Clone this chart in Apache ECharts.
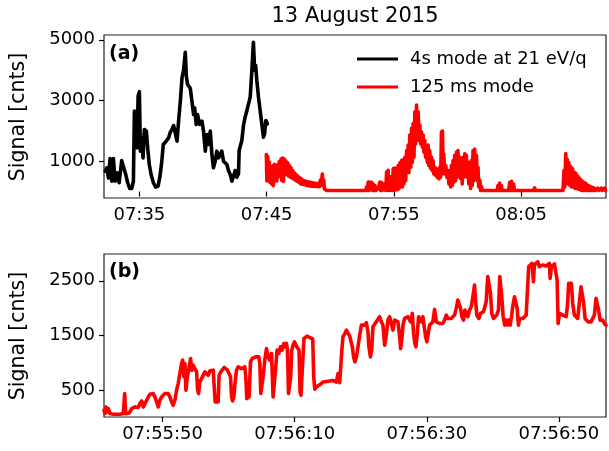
<!DOCTYPE html>
<html>
<head>
<meta charset="utf-8">
<script src="https://cdn.jsdelivr.net/npm/echarts@6.0.0/dist/echarts.min.js"></script>
<style>
html,body{margin:0;padding:0;background:#fff;}
#chart{width:609px;height:451px;}
</style>
</head>
<body>
<div id="chart"></div>
<script>
// ---- Data (time in minutes after 07:00 for panel a; seconds after 07:55:00 for panel b) ----
const blackTop = [
[32.31,670],[32.44,780],[32.57,450],[32.70,1090],[32.83,340],[32.96,1090],[33.09,340],[33.25,620],
[33.41,290],[33.61,1020],[33.77,780],[33.93,560],[34.08,290],[34.24,100],[34.40,100],[34.53,340],
[34.61,2650],[34.74,2540],[34.82,1440],[34.90,3140],[35.00,3290],[35.08,1330],[35.18,1770],[35.29,1110],
[35.39,2045],[35.55,1990],[35.65,1440],[35.78,890],[35.92,560],[36.10,290],[36.28,143],[36.47,177],
[36.62,506],[36.75,947],[36.88,1550],[37.04,1630],[37.30,1770],[37.43,1956],[37.56,2045],[37.69,2176],
[37.82,2210],[37.96,1660],[38.08,2318],[38.22,2977],[38.35,3748],[38.47,3990],[38.61,4590],[38.69,3800],
[38.79,3530],[39.00,3400],[39.13,2977],[39.26,2539],[39.34,2760],[39.47,2210],[39.57,2539],[39.73,2210],
[39.92,2320],[40.04,1990],[40.18,1330],[40.31,1880],[40.44,1550],[40.57,1990],[40.70,1220],[40.82,782],
[40.96,1000],[41.09,1330],[41.22,1110],[41.35,1220],[41.48,1330],[41.61,1000],[41.75,1023],[41.88,891],
[42.00,694],[42.14,562],[42.27,341],[42.40,330],[42.53,694],[42.66,470],[42.79,585],[42.84,1352],
[43.05,1682],[43.18,2176],[43.31,2450],[43.45,2670],[43.57,2700],[43.71,3110],[43.84,3990],[43.96,4921],
[44.06,4000],[44.14,4150],[44.23,3659],[44.36,3110],[44.49,2670],[44.62,2232],[44.75,1790],[44.84,1900],
[44.94,2341],[45.06,2232]
];
const redTop = [
[44.98,1220],[45.02,350],[45.09,1150],[45.15,465],[45.21,960],[45.27,300],[45.35,800],[45.41,240],
[45.47,840],[45.53,190],[45.60,900],[45.67,400],[45.73,700],[45.80,350],[45.86,880],[45.93,480],
[45.99,990],[46.06,530],[46.13,1070],[46.19,365],[46.25,1100],[46.32,330],[46.38,1080],[46.45,620],
[46.51,1010],[46.58,560],[46.65,950],[46.71,510],[46.77,870],[46.84,480],[46.91,790],[46.98,450],
[47.04,700],[47.10,420],[47.16,630],[47.24,380],[47.30,570],[47.37,350],[47.43,510],[47.49,320],
[47.56,470],[47.63,270],[47.70,430],[47.76,240],[47.85,380],[47.93,230],[48.02,345],[48.11,210],
[48.19,330],[48.28,190],[48.36,315],[48.45,180],[48.55,300],[48.63,170],[48.72,280],[48.80,170],
[48.89,270],[48.98,165],[49.06,270],[49.15,160],[49.22,380],[49.27,200],[49.38,575],[49.43,200],
[49.49,380],[49.54,90],[49.59,150],[49.65,35],[49.72,35],
[52.80,35],[52.86,150],[52.92,35],[52.98,310],[53.05,35],[53.12,310],[53.19,60],[53.27,300],
[53.33,35],[53.38,250],[53.44,35],[53.51,200],[53.57,35],[53.71,35],[53.77,100],[53.83,35],
[53.90,310],[53.97,35],[54.04,300],[54.10,35],[54.23,35],[54.29,250],[54.36,35],[54.43,650],
[54.49,35],[54.55,700],[54.62,35],[54.69,490],[54.76,35],[54.82,400],[54.88,35],[54.95,760],
[55.01,35],[55.08,770],[55.14,50],[55.21,640],[55.27,60],[55.34,860],[55.40,90],[55.47,950],
[55.54,150],[55.60,1020],[55.67,150],[55.73,1050],[55.79,250],[55.86,1130],[55.93,360],[56.00,1350],
[56.06,630],[56.12,1530],[56.18,630],[56.25,1860],[56.33,800],[56.39,2080],[56.45,960],[56.51,2240],
[56.58,1130],[56.65,2630],[56.71,1570],[56.78,2850],[56.84,1790],[56.91,2630],[56.97,1680],[57.04,2190],
[57.11,1570],[57.17,1970],[57.24,1460],[57.30,1860],[57.36,1300],[57.43,1680],[57.49,1130],[57.56,1460],
[57.63,960],[57.69,1530],[57.75,850],[57.82,1350],[57.89,750],[57.96,1130],[58.02,690],[58.08,1020],
[58.14,580],[58.22,800],[58.28,530],[58.35,750],[58.41,470],[58.47,690],[58.54,420],[58.61,800],
[58.68,470],[58.74,1970],[58.78,580],[58.82,1990],[58.87,700],[58.92,1240],[59.00,580],[59.08,860],
[59.17,470],[59.26,690],[59.32,250],[59.39,580],[59.46,150],[59.52,860],[59.59,200],[59.65,1020],
[59.71,310],[59.78,1190],[59.85,360],[59.92,1300],[59.98,470],[60.04,1350],[60.11,530],[60.18,1130],
[60.25,420],[60.31,970],[60.37,250],[60.44,1130],[60.50,470],[60.57,1240],[60.63,530],[60.70,1190],
[60.76,470],[60.83,970],[60.89,250],[60.96,800],[61.03,100],[61.09,1020],[61.16,200],[61.22,1350],
[61.28,360],[61.35,1400],[61.42,420],[61.49,1190],[61.55,360],[61.61,800],[61.67,150],[61.75,380],
[61.82,35],[61.88,170],[61.94,35],[62.00,35],
[63.11,35],[63.18,200],[63.24,35],[63.31,280],[63.38,35],[63.45,200],[63.51,35],
[64.02,35],[64.10,300],[64.17,35],[64.25,340],[64.33,35],[64.41,250],[64.47,35],
[65.98,35],[66.06,120],[66.14,35],
[68.29,35],[68.37,700],[68.43,150],[68.51,1250],[68.57,400],[68.63,1050],[68.69,250],[68.76,950],
[68.83,200],[68.90,820],[68.96,150],[69.03,760],[69.09,150],[69.16,650],[69.23,100],[69.30,600],
[69.36,100],[69.43,520],[69.49,80],[69.56,450],[69.63,60],[69.70,390],[69.76,35],[69.83,330],
[69.89,35],[69.96,300],[70.03,35],[70.10,260],[70.16,35],[70.23,210],[70.29,35],[70.36,180],
[70.43,35],[70.50,150],[70.56,35],[70.63,130],[70.69,35],[70.76,110],[70.83,35],[70.90,100],
[70.96,35],[71.03,110],[71.09,35],[71.16,100],[71.23,35],[71.30,110],[71.36,35],[71.43,100],
[71.49,35],[71.56,110],[71.63,35]
];
const redBottom = [
[41.13,135],[41.28,74],[41.43,196],[41.63,104],[41.78,166],[42.04,74],[42.29,104],[42.54,62],
[42.79,86],[43.05,62],[43.29,74],[43.55,62],[43.81,86],[44.05,74],[44.26,440],[44.41,74],
[44.65,104],[44.96,86],[45.32,166],[45.56,196],[45.82,196],[46.07,166],[46.31,184],[46.57,257],
[46.83,306],[47.07,196],[47.33,257],[47.59,318],[47.83,379],[48.09,428],[48.34,440],[48.58,440],
[48.84,379],[49.10,287],[49.34,196],[49.59,318],[49.85,379],[50.09,391],[50.35,440],[50.61,470],
[50.85,440],[51.11,379],[51.37,287],[51.61,226],[51.86,318],[52.12,501],[52.36,623],[52.62,653],
[52.88,989],[53.03,1050],[53.23,745],[53.38,989],[53.53,501],[53.72,714],[53.98,745],[54.24,1080],
[54.43,867],[54.63,958],[54.89,928],[55.15,836],[55.30,501],[55.45,440],[55.64,653],[55.90,714],
[56.14,745],[56.40,836],[56.66,867],[56.90,775],[57.16,855],[57.41,867],[57.66,867],[57.81,867],
[57.96,287],[58.17,287],[58.41,287],[58.56,775],[58.82,836],[59.08,867],[59.32,916],[59.58,928],
[59.83,867],[60.08,855],[60.29,745],[60.44,379],[60.59,306],[60.79,379],[60.98,653],[61.19,867],
[61.44,928],[61.69,928],[61.95,897],[62.19,916],[62.45,928],[62.60,745],[62.75,348],[62.90,318],
[63.10,379],[63.31,1019],[63.56,1080],[63.81,1080],[64.07,1111],[64.31,1080],[64.57,1111],[64.72,989],
[64.87,440],[65.02,409],[65.22,745],[65.47,1050],[65.73,1263],[65.97,1111],[66.23,1050],[66.49,1172],
[66.73,379],[66.88,379],[67.09,867],[67.33,1233],[67.59,1172],[67.85,1294],[68.09,1233],[68.35,1355],
[68.50,1294],[68.75,1355],[68.91,1233],[69.06,440],[69.21,409],[69.40,745],[69.55,1233],[69.75,1324],
[69.96,1385],[70.16,1355],[70.31,1294],[70.51,1294],[70.66,1233],[70.81,470],[70.96,409],[71.17,928],
[71.41,1446],[71.67,1477],[71.87,1489],[72.08,1464],[72.28,1464],[72.58,1500],[72.73,1440],[72.88,745],
[73.04,520],[73.29,560],[73.53,590],[73.79,600],[74.05,620],[74.29,650],[74.55,640],[74.81,660],
[75.05,650],[75.30,670],[75.56,660],[75.81,680],[76.06,660],[76.32,650],[76.56,806],[76.71,800],
[76.81,640],[76.97,660],[77.12,1200],[77.31,1477],[77.57,1530],[77.83,1599],[78.07,1570],[78.33,1490],
[78.58,1477],[78.73,1290],[78.93,1100],[79.13,1019],[79.34,1111],[79.58,1290],[79.84,1507],[80.10,1690],
[80.34,1720],[80.60,1690],[80.85,1733],[81.09,1570],[81.24,1290],[81.46,1111],[81.65,1230],[81.85,1660],
[82.11,1690],[82.36,1750],[82.61,1750],[82.86,1843],[83.12,1750],[83.36,1690],[83.62,1324],[83.87,1507],
[84.12,1782],[84.37,1843],[84.63,1843],[84.87,1600],[85.13,1782],[85.39,1812],[85.63,1750],[85.89,1477],
[86.04,1263],[86.23,1446],[86.39,1690],[86.64,1812],[86.90,1843],[87.14,1843],[87.40,1873],[87.55,1750],
[87.81,1904],[88.00,1538],[88.20,1355],[88.35,1294],[88.56,1538],[88.76,1843],[89.02,1873],[89.21,1750],
[89.41,1843],[89.62,1873],[89.82,1477],[90.01,1385],[90.22,1538],[90.42,1690],[90.68,1690],[90.92,1750],
[91.18,1977],[91.44,1750],[91.68,1782],[91.93,1720],[92.19,1690],[92.43,1720],[92.69,1782],[92.95,1873],
[93.19,1812],[93.45,1782],[93.70,1812],[93.95,1843],[94.20,1873],[94.46,1995],[94.70,2148],[94.96,2148],
[95.11,1995],[95.31,1843],[95.56,1782],[95.76,1965],[95.97,1934],[96.21,1843],[96.47,1965],[96.73,2025],
[96.97,2209],[97.23,2422],[97.38,2148],[97.57,1873],[97.88,1812],[98.13,1904],[98.39,1934],[98.58,1934],
[98.78,1965],[98.99,2117],[99.23,2575],[99.49,2575],[99.64,2270],[99.84,1904],[100.10,1812],[100.35,1843],
[100.59,1873],[100.85,1965],[101.05,2575],[101.20,2575],[101.35,2209],[101.56,1843],[101.80,1690],[102.01,1782],
[102.21,1690],[102.41,1782],[102.62,1690],[102.82,1843],[103.01,2025],[103.27,2209],[103.53,2239],[103.68,1995],
[103.87,1690],[104.07,1812],[104.28,1782],[104.53,1812],[104.78,1843],[105.04,1873],[105.28,1904],[105.43,2758],
[105.64,2788],[105.94,2819],[106.14,2483],[106.29,2788],[106.55,2819],[106.79,2849],[107.05,2758],[107.31,2788],
[107.55,2788],[107.81,2819],[108.06,2770],[108.31,2788],[108.56,2819],[108.67,2544],[108.87,2758],[109.06,2788],
[109.32,2807],[109.58,2819],[109.73,2514],[109.88,1721],[110.08,1904],[110.33,1873],[110.58,1873],[110.83,1904],
[111.09,1843],[111.28,2025],[111.48,2453],[111.69,2483],[111.89,2453],[112.09,2087],[112.34,1873],[112.60,1843],
[112.84,1812],[113.10,1782],[113.35,2392],[113.55,2362],[113.75,2087],[113.96,1812],[114.20,1782],[114.41,1750],
[114.61,1721],[114.87,1750],[115.11,1721],[115.37,1873],[115.62,2178],[115.86,2148],[116.01,1965],[116.23,1782],
[116.42,1750],[116.62,1782],[116.88,1721],[117.13,1690]
];
const topTicks = [35, 45, 55, 65];
const topTickLabels = ['07:35', '07:45', '07:55', '08:05'];
const bottomTicks = [50, 70, 90, 110];
const bottomTickLabels = ['07:55:50', '07:56:10', '07:56:30', '07:56:50'];
const topYTicks = [1000, 3000, 5000];
const bottomYTicks = [500, 1500, 2500];
const seriesNames = ['4s mode at 21 eV/q', '125 ms mode'];

// ---- Chart ----
const FONT = 'DejaVu Sans';
const chart = echarts.init(document.getElementById('chart'), null, {renderer: 'canvas'});

function xAxisCfg(grid, min, max, ticks, labels) {
  return {
    gridIndex: grid, type: 'value', min: min, max: max,
    axisLine: {show: false}, splitLine: {show: false},
    axisTick: {show: true, customValues: ticks, length: 5, lineStyle: {color: '#000', width: 1.2}},
    axisLabel: {show: true, customValues: ticks, margin: 8, fontSize: 18, fontFamily: FONT, color: '#000',
      formatter: v => { const i = ticks.indexOf(v); return i >= 0 ? labels[i] : ''; }}
  };
}
function yAxisCfg(grid, min, max, ticks) {
  return {
    gridIndex: grid, type: 'value', min: min, max: max,
    axisLine: {show: false}, splitLine: {show: false},
    axisTick: {show: true, customValues: ticks, length: 5, lineStyle: {color: '#000', width: 1.2}},
    axisLabel: {show: true, customValues: ticks, margin: 9, fontSize: 18, fontFamily: FONT, color: '#000',
      formatter: v => String(v)}
  };
}

const LW = 3.6;
const option = {
  animation: false,
  backgroundColor: '#fff',
  grid: [
    {left: 104, right: 3, top: 35, height: 163, show: true, borderColor: '#222', borderWidth: 1.2, backgroundColor: 'transparent'},
    {left: 104, right: 3, top: 254, height: 163, show: true, borderColor: '#222', borderWidth: 1.2, backgroundColor: 'transparent'}
  ],
  xAxis: [
    xAxisCfg(0, 32.22, 71.67, topTicks, topTickLabels),
    xAxisCfg(1, 41.13, 117.13, bottomTicks, bottomTickLabels)
  ],
  yAxis: [
    yAxisCfg(0, -213, 5158, topYTicks),
    yAxisCfg(1, 12, 2989, bottomYTicks)
  ],
  legend: {
    data: seriesNames, orient: 'vertical', left: 357, top: 50, padding: 0,
    itemWidth: 41, itemHeight: 3, itemGap: 10, icon: 'rect',
    textStyle: {fontSize: 18, fontFamily: FONT, color: '#000', padding: [0, 0, 0, 7]}
  },
  graphic: [
    {type: 'text', x: 355, y: 17, style: {text: '13 August 2015', font: '21px "DejaVu Sans"', fill: '#000', align: 'center', verticalAlign: 'middle'}},
    {type: 'text', x: 19, y: 117, rotation: Math.PI / 2, style: {text: 'Signal [cnts]', font: '20.5px "DejaVu Sans"', fill: '#000', align: 'center', verticalAlign: 'middle'}},
    {type: 'text', x: 19, y: 336, rotation: Math.PI / 2, style: {text: 'Signal [cnts]', font: '20.5px "DejaVu Sans"', fill: '#000', align: 'center', verticalAlign: 'middle'}},
    {type: 'text', x: 109, y: 54, style: {text: '(a)', font: 'bold 19px "DejaVu Sans"', fill: '#000', align: 'left', verticalAlign: 'middle'}},
    {type: 'text', x: 109, y: 272.5, style: {text: '(b)', font: 'bold 19px "DejaVu Sans"', fill: '#000', align: 'left', verticalAlign: 'middle'}}
  ],
  series: [
    {name: seriesNames[1], type: 'line', xAxisIndex: 0, yAxisIndex: 0, data: redTop, symbol: 'none', showSymbol: false,
      lineStyle: {color: '#ff0000', width: LW, join: 'round', cap: 'round'}, itemStyle: {color: '#ff0000'}, z: 2},
    {name: seriesNames[0], type: 'line', xAxisIndex: 0, yAxisIndex: 0, data: blackTop, symbol: 'none', showSymbol: false,
      lineStyle: {color: '#000000', width: LW, join: 'round', cap: 'round'}, itemStyle: {color: '#000000'}, z: 3},
    {name: 'panel b', type: 'line', xAxisIndex: 1, yAxisIndex: 1, data: redBottom, symbol: 'none', showSymbol: false,
      lineStyle: {color: '#ff0000', width: LW, join: 'round', cap: 'round'}, itemStyle: {color: '#ff0000'}, z: 2}
  ]
};
chart.setOption(option);
</script>
</body>
</html>
